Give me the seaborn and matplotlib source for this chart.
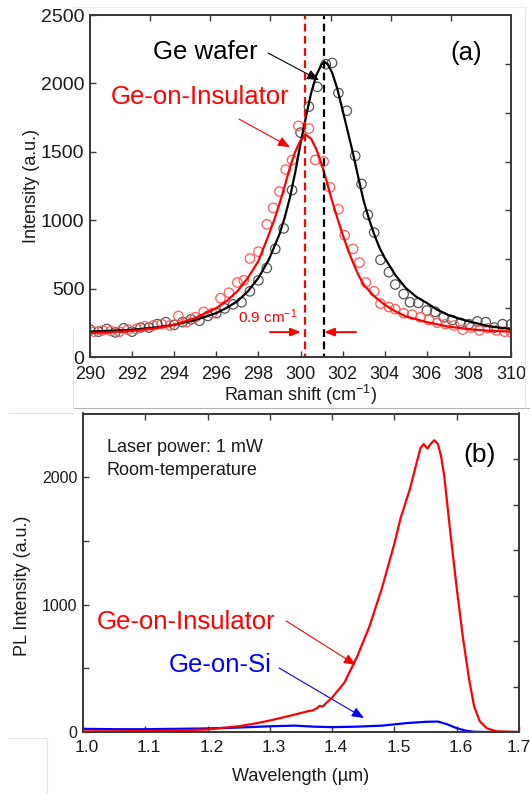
import numpy as np
import pandas as pd
import seaborn as sns
import matplotlib.pyplot as plt
import matplotlib.transforms as mtransforms
from matplotlib.lines import Line2D

sns.set_theme(style="white")
plt.rcParams["font.family"] = ["Liberation Sans", "DejaVu Sans"]
plt.rcParams["mathtext.fontset"] = "custom"
plt.rcParams["mathtext.rm"] = "Liberation Sans"
plt.rcParams["mathtext.default"] = "regular"

# ---------------- (a) Raman spectra ----------------
ge_scatter_x = [290.0, 290.4, 290.8, 291.2, 291.6, 292.0, 292.4, 292.8, 293.2, 293.6,
                294.0, 294.4, 294.8, 295.2, 295.6, 296.0, 296.4, 296.8, 297.2, 297.6,
                298.0, 298.4, 298.8, 299.2, 299.6, 300.0, 300.4, 300.8, 301.2, 301.5,
                301.8, 302.2, 302.6, 302.9, 303.2, 303.5, 303.8, 304.2, 304.5, 304.9,
                305.2, 305.6, 306.0, 306.4, 306.8, 307.2, 307.6, 308.0, 308.4, 308.8,
                309.2, 309.6, 310.0]
ge_scatter_y = [200, 185, 205, 180, 210, 185, 215, 215, 240, 255,
                235, 255, 275, 265, 300, 320, 355, 385, 400, 480,
                560, 650, 790, 940, 1220, 1640, 1830, 1975, 2140, 2150,
                1930, 1800, 1470, 1265, 1040, 910, 710, 620, 530, 460,
                400, 395, 340, 330, 290, 270, 250, 240, 260, 255,
                215, 240, 240]

goi_scatter_x = [290.2, 290.6, 291.0, 291.4, 291.8, 292.2, 292.6, 293.0, 293.4, 293.8,
                 294.2, 294.6, 295.0, 295.4, 295.8, 296.2, 296.6, 297.0, 297.3, 297.6,
                 298.0, 298.4, 298.7, 299.0, 299.3, 299.6, 299.9, 300.4, 300.7, 301.1,
                 301.4, 301.8, 302.1, 302.5, 302.8, 303.1, 303.5, 303.8, 304.2, 304.5,
                 304.9, 305.3, 305.7, 306.1, 306.5, 306.9, 307.3, 307.7, 308.1, 308.5,
                 308.9, 309.3, 309.7, 310.0]
goi_scatter_y = [185, 195, 190, 185, 200, 205, 225, 230, 240, 230,
                 300, 255, 290, 330, 320, 430, 470, 545, 560, 720,
                 770, 970, 1090, 1210, 1370, 1440, 1690, 1670, 1440, 1430,
                 1240, 1080, 890, 790, 690, 545, 480, 390, 365, 350,
                 320, 310, 290, 270, 250, 240, 230, 200, 215, 195,
                 210, 195, 185, 180]

ge_fit_x = [290, 291, 292, 293, 294, 295, 296, 296.5, 297, 297.5, 298, 298.5, 299,
            299.25, 299.5, 299.75, 300, 300.25, 300.5, 300.75, 301.0, 301.15, 301.3,
            301.5, 301.75, 302, 302.25, 302.5, 302.75, 303, 303.25, 303.5, 303.75,
            304, 304.5, 305, 305.5, 306, 306.5, 307, 307.5, 308, 309, 310]
ge_fit_y = [186, 192, 199, 214, 235, 270, 321, 360, 407, 480, 578, 713, 897,
            1020, 1167, 1350, 1559, 1750, 1926, 2060, 2140, 2155, 2140,
            2080, 1960, 1804, 1645, 1485, 1310, 1142, 1010, 897, 800,
            725, 600, 505, 440, 395, 345, 309, 282, 260, 223, 205]

goi_fit_x = [290, 291, 292, 293, 294, 295, 296, 296.5, 297, 297.5, 298, 298.5, 298.75,
             299, 299.25, 299.5, 299.75, 300, 300.25, 300.5, 300.75, 301, 301.25,
             301.5, 301.75, 302, 302.25, 302.5, 302.75, 303, 303.5, 304, 304.5, 305,
             306, 307, 308, 309, 310]
goi_fit_y = [174, 182, 191, 208, 235, 285, 358, 410, 480, 578, 701, 897, 1000,
             1118, 1250, 1387, 1500, 1583, 1625, 1596, 1520, 1412, 1280,
             1142, 1015, 897, 785, 689, 600, 529, 444, 382, 335, 297,
             255, 223, 203, 191, 186]

goi_peak = 300.2
ge_peak = 301.1

raman_xticks = [290, 292, 294, 296, 298, 300, 302, 304, 306, 308, 310]
raman_yticks = [0, 500, 1000, 1500, 2000, 2500]

# ---------------- (b) PL spectra ----------------
pl_goi_x = [1.000, 1.050, 1.100, 1.150, 1.200, 1.250, 1.280, 1.300, 1.330, 1.355,
            1.362, 1.368, 1.375, 1.380, 1.385, 1.390, 1.400, 1.420, 1.440, 1.460,
            1.480, 1.500, 1.510, 1.525, 1.536, 1.542, 1.547, 1.553, 1.558, 1.564,
            1.570, 1.575, 1.580, 1.589, 1.600, 1.610, 1.620, 1.628, 1.637, 1.648,
            1.664, 1.700]
pl_goi_y = [5, 5, 8, 12, 20, 45, 70, 90, 125, 155,
            165, 168, 185, 205, 200, 225, 270, 390, 590, 830,
            1130, 1480, 1680, 1910, 2120, 2230, 2260, 2225, 2260, 2290,
            2260, 2160, 2010, 1600, 1130, 740, 410, 200, 85, 30,
            5, 0]

pl_gos_x = [1.00, 1.05, 1.10, 1.15, 1.20, 1.25, 1.30, 1.34, 1.37, 1.40, 1.44, 1.48,
            1.52, 1.55, 1.57, 1.585, 1.60, 1.615, 1.627, 1.65, 1.70]
pl_gos_y = [25, 22, 22, 25, 28, 35, 45, 50, 42, 38, 42, 50,
            70, 80, 82, 60, 30, 10, 2, 0, 0]

pl_xticks = [1.0, 1.1, 1.2, 1.3, 1.4, 1.5, 1.6, 1.7]
pl_xticklabels = ["1.0", "1.1", "1.2", "1.3", "1.4", "1.5", "1.6", "1.7"]
pl_yticks = [0, 500, 1000, 1500, 2000]
pl_yticklabels = ["0", "", "1000", "", "2000"]

SPINE = "#3a3a3a"
TXT = "#1a1a1a"
RED = "#ff0000"
BLUE = "#0000ff"

W, H = 530, 794
fig = plt.figure(figsize=(W / 100, H / 100), dpi=100)


def px_axes(left, top, right, bottom):
    return fig.add_axes([left / W, 1 - bottom / H, (right - left) / W, (bottom - top) / H])


def style_axes(ax, xsize, ysize, xpad=6):
    for s in ax.spines.values():
        s.set_color(SPINE)
        s.set_linewidth(1.1)
    ax.tick_params(direction="in", length=4, width=1, color=SPINE, labelcolor=TXT)
    ax.tick_params(axis="x", labelsize=xsize, pad=xpad)
    ax.tick_params(axis="y", labelsize=ysize, pad=4)
    ax.grid(False)


def frame_ticks(ax):
    top = ax.twiny()
    top.set_xlim(0, 7)
    top.set_xticks(range(1, 7))
    top.tick_params(axis="x", direction="in", length=4, width=1, color=SPINE,
                    labeltop=False, top=True)
    right = ax.twinx()
    right.set_ylim(0, 7)
    right.set_yticks(range(1, 7))
    right.tick_params(axis="y", direction="in", length=4, width=1, color=SPINE,
                      labelright=False, right=True)
    for t in (top, right):
        t.grid(False)
        for s in t.spines.values():
            s.set_color(SPINE)
            s.set_linewidth(1.1)


arrow_thin = "-|>,head_length=0.6,head_width=0.25"
arrow_small = "-|>,head_length=0.5,head_width=0.2"

# ---- panel (a) ----
ax1 = px_axes(90, 15, 511, 357)
sns.scatterplot(x=ge_scatter_x, y=ge_scatter_y, ax=ax1, marker="o", s=46,
                facecolor="none", edgecolor="#555555", linewidth=0.9, zorder=3)
sns.scatterplot(x=goi_scatter_x, y=goi_scatter_y, ax=ax1, marker="o", s=46,
                facecolor="none", edgecolor="#ff5a5a", linewidth=0.9, zorder=3)
sns.lineplot(x=ge_fit_x, y=ge_fit_y, ax=ax1, color="black", lw=1.6,
             estimator=None, sort=False, zorder=4)
sns.lineplot(x=goi_fit_x, y=goi_fit_y, ax=ax1, color=RED, lw=1.6,
             estimator=None, sort=False, zorder=4)
ax1.axvline(goi_peak, color=RED, lw=1.6, ls=(2, (3.5, 2)), zorder=5)
ax1.axvline(ge_peak, color="black", lw=1.6, ls=(2, (3.5, 2)), zorder=5)

ax1.set_xlim(290, 310)
ax1.set_ylim(0, 2500)
ax1.set_xticks(raman_xticks)
ax1.set_yticks(raman_yticks)
style_axes(ax1, 13, 14, xpad=6.5)
ax1.set_xlabel("Raman shift (cm$^{-1}$)", fontsize=13, color=TXT, labelpad=0)
ax1.set_ylabel("Intensity (a.u.)", fontsize=13, color=TXT, labelpad=1)

ax1.text(295.49, 2229, "Ge wafer", fontsize=18.5, color="black", ha="center", va="center")
ax1.text(295.23, 1900, "Ge-on-Insulator", fontsize=18.5, color=RED, ha="center", va="center")
ax1.text(307.86, 2222, "(a)", fontsize=18.5, color="black", ha="center", va="center")
ax1.annotate("", xy=(300.88, 2024), xytext=(298.46, 2222),
             arrowprops=dict(arrowstyle=arrow_thin, color="black", lw=0.8,
                             shrinkA=0, shrinkB=0))
ax1.annotate("", xy=(299.5, 1534), xytext=(297.08, 1739),
             arrowprops=dict(arrowstyle=arrow_thin, color=RED, lw=0.8,
                             shrinkA=0, shrinkB=0))
shift = ge_peak - goi_peak
ax1.text(298.46, 291, f"{shift:.1f} cm$^{{-1}}$", fontsize=11, color=RED,
         ha="center", va="center")
ax1.annotate("", xy=(goi_peak - 0.18, 182), xytext=(298.55, 182),
             arrowprops=dict(arrowstyle=arrow_small, color=RED, lw=1.4,
                             shrinkA=0, shrinkB=0))
ax1.annotate("", xy=(ge_peak + 0.02, 182), xytext=(302.64, 182),
             arrowprops=dict(arrowstyle=arrow_small, color=RED, lw=1.4,
                             shrinkA=0, shrinkB=0))
frame_ticks(ax1)

# ---- panel (b) ----
ax2 = px_axes(83, 413.5, 519, 732)
sns.lineplot(x=pl_gos_x, y=pl_gos_y, ax=ax2, color=BLUE, lw=1.6,
             estimator=None, sort=False, zorder=3)
sns.lineplot(x=pl_goi_x, y=pl_goi_y, ax=ax2, color=RED, lw=1.6,
             estimator=None, sort=False, zorder=4)
ax2.set_xlim(1.0, 1.7)
ax2.set_ylim(0, 2500)
ax2.set_xticks(pl_xticks)
ax2.set_xticklabels(pl_xticklabels)
ax2.set_yticks(pl_yticks)
ax2.set_yticklabels(pl_yticklabels)
style_axes(ax2, 12.5, 11.5)
nudge = mtransforms.ScaledTranslation(4 / 100, 0, fig.dpi_scale_trans)
for lab in ax2.get_xticklabels()[:-1]:
    lab.set_transform(lab.get_transform() + nudge)
ax2.set_xlabel("Wavelength (µm)", fontsize=13, color=TXT, labelpad=9)
ax2.set_ylabel("PL Intensity (a.u.)", fontsize=13, color=TXT)
ax2.yaxis.set_label_coords(-0.119, 0.458)

ax2.text(1.0385, 2230, "Laser power: 1 mW", fontsize=13, color=TXT, ha="left", va="center")
ax2.text(1.0385, 2049, "Room-temperature", fontsize=13, color=TXT, ha="left", va="center")
ax2.text(1.637, 2175, "(b)", fontsize=19, color="black", ha="center", va="center")
ax2.text(1.165, 864, "Ge-on-Insulator", fontsize=18.5, color=RED, ha="center", va="center")
ax2.text(1.2207, 526, "Ge-on-Si", fontsize=18.5, color=BLUE, ha="center", va="center")
ax2.annotate("", xy=(1.438, 526), xytext=(1.326, 872),
             arrowprops=dict(arrowstyle=arrow_thin, color=RED, lw=0.8,
                             shrinkA=0, shrinkB=0))
ax2.annotate("", xy=(1.451, 110), xytext=(1.3146, 503),
             arrowprops=dict(arrowstyle=arrow_thin, color=BLUE, lw=0.8,
                             shrinkA=0, shrinkB=0))
frame_ticks(ax2)


# faint panel borders around the two plots
def fig_line(x0, y0, x1, y1, color, lw=0.8):
    fig.add_artist(Line2D([x0 / W, x1 / W], [1 - y0 / H, 1 - y1 / H],
                          color=color, lw=lw, transform=fig.transFigure))


fig_line(73, 408, 530, 408, "#b4b4b4")
fig_line(73, 330, 73, 408, "#e2e2e2")
fig_line(73, 7, 525, 7, "#ececec")
fig_line(525, 7, 525, 408, "#e6e6e6")
fig_line(9, 413, 73, 413, "#e0e0e0")
fig_line(8, 738, 47, 738, "#e6e6e6")
fig_line(47, 738, 47, 794, "#e6e6e6")

fig.savefig("out.png", dpi=100)
